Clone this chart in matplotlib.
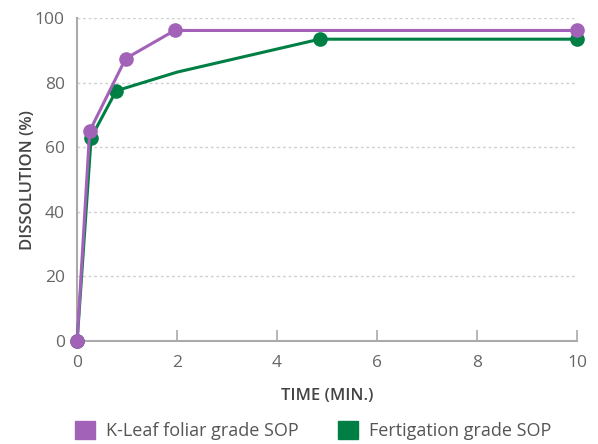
import matplotlib
matplotlib.use("Agg")
import matplotlib.pyplot as plt
from matplotlib.patches import Patch

plt.rcParams['font.family'] = ['Open Sans', 'DejaVu Sans']

# K-Leaf foliar grade SOP
t_kleaf = [0, 0.25, 0.97, 1.95, 10]
d_kleaf = [0, 65, 87.5, 96.2, 96.2]
# Fertigation grade SOP (point at 2 min has no marker)
t_fert = [0, 0.28, 0.78, 2.0, 4.85, 10]
d_fert = [0, 63, 77.5, 83.3, 93.5, 93.5]
fert_marked = [0, 1, 2, 4, 5]

purple = '#a262b8'
green = '#007f45'
grey = '#aaaaaa'

fig = plt.figure(figsize=(5.98, 4.44), dpi=100)
ax = fig.add_axes([0.129, 0.232, 0.836, 0.727])

ax.plot(t_fert, d_fert, color=green, lw=2.2, marker='o', ms=9.5,
        markevery=fert_marked, clip_on=False, zorder=3)
ax.plot(t_kleaf, d_kleaf, color=purple, lw=2.2, marker='o', ms=9.5,
        clip_on=False, zorder=4)

ax.set_xlim(0, 10)
ax.set_ylim(0, 100)
ax.set_xticks([0, 2, 4, 6, 8, 10])
ax.set_yticks([0, 20, 40, 60, 80, 100])
for y in [20, 40, 60, 80, 100]:
    ax.axhline(y, color='#d0d0d0', lw=1, ls=(0, (2, 2)), zorder=1)

for s in ['top', 'right']:
    ax.spines[s].set_visible(False)
for s in ['left', 'bottom']:
    ax.spines[s].set_color(grey)
    ax.spines[s].set_linewidth(1.5)
ax.tick_params(axis='x', direction='in', length=8, width=1.2, color=grey,
               labelcolor='#666666', labelsize=12.5, pad=10)
ax.tick_params(axis='y', length=0, labelcolor='#666666', labelsize=12.5, pad=9)

ax.set_xlabel('TIME (MIN.)', color='#444444', fontsize=12, fontweight='semibold', labelpad=12)
ax.set_ylabel('DISSOLUTION (%)', color='#444444', fontsize=12, fontweight='semibold', labelpad=-1)

handles = [Patch(color=purple, label='K-Leaf foliar grade SOP'),
           Patch(color=green, label='Fertigation grade SOP')]
fig.legend(handles=handles, loc='center', bbox_to_anchor=(0.524, 0.03), ncol=2,
           frameon=False, fontsize=13, handlelength=1.1, handleheight=1.1,
           columnspacing=2.2, handletextpad=0.6, labelcolor='#555555')

fig.savefig('out.png', dpi=100)
